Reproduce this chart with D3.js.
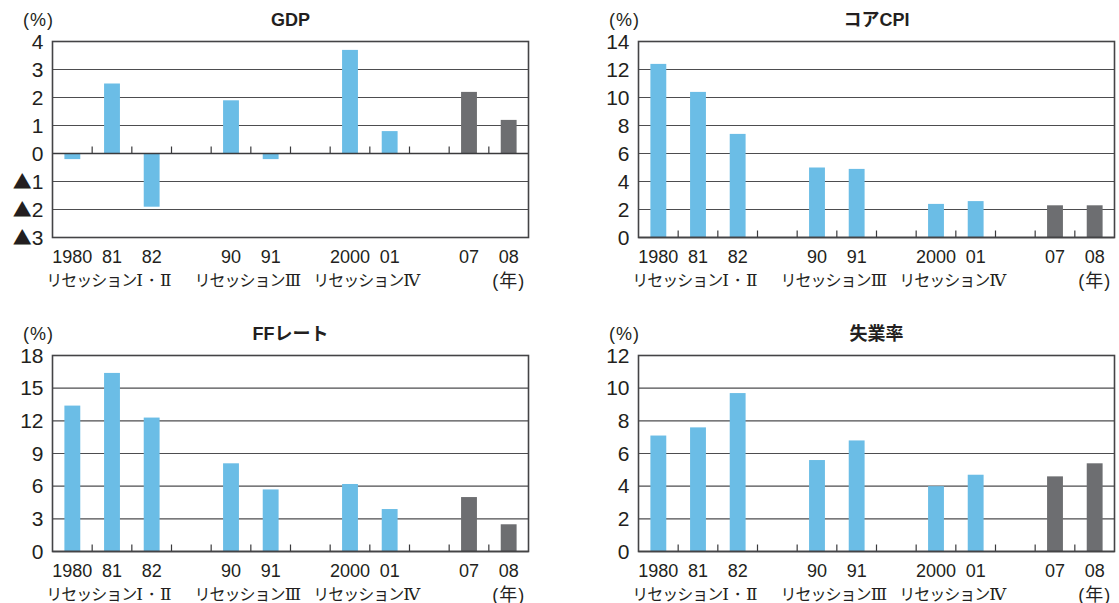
<!DOCTYPE html>
<html>
<head>
<meta charset="utf-8">
<script src="https://cdn.jsdelivr.net/npm/d3@7"></script>
<style>
  body { margin: 0; background: #fff; }
  text { font-family: "Liberation Sans", "Noto Sans CJK JP", sans-serif; }
</style>
</head>
<body>
<svg id="chart" width="1119" height="603"></svg>
<script>
// years shown, with empty slots between the recession groups
const years = ["1980", "81", "82", "90", "91", "2000", "01", "07", "08"];
const slots = ["1980", "81", "82", "gap1", "90", "91", "gap2", "2000", "01", "gap3", "07", "08"];
const recent = ["07", "08"];
const recessions = [
  { label: "リセッション", num: "Ⅰ・Ⅱ", from: "1980", to: "82" },
  { label: "リセッション", num: "Ⅲ", from: "90", to: "91" },
  { label: "リセッション", num: "Ⅳ", from: "2000", to: "01" }
];

const gdp = [-0.2, 2.5, -1.9, 1.9, -0.2, 3.7, 0.8, 2.2, 1.2];
const coreCpi = [12.4, 10.4, 7.4, 5.0, 4.9, 2.4, 2.6, 2.3, 2.3];
const ffRate = [13.4, 16.4, 12.3, 8.1, 5.7, 6.2, 3.9, 5.0, 2.5];
const unemployment = [7.1, 7.6, 9.7, 5.6, 6.8, 4.0, 4.7, 4.6, 5.4];

const blue = "#6bbde6";
const grey = "#6d6e71";
const ink = "#231f20";
const FONT = '"Liberation Sans", "Noto Sans CJK JP", sans-serif';
const JP = '"Noto Sans CJK JP", sans-serif';

const W = 476, H = 196;

const panels = [
  { title: "GDP", values: gdp, domain: [-3, 4], step: 1, x: 52.5, y: 41.5 },
  { title: "コアCPI", values: coreCpi, domain: [0, 14], step: 2, x: 638.5, y: 41.5 },
  { title: "FFレート", values: ffRate, domain: [0, 18], step: 3, x: 52.5, y: 355.5 },
  { title: "失業率", values: unemployment, domain: [0, 12], step: 2, x: 638.5, y: 355.5 }
];

const svg = d3.select("#chart");

panels.forEach(p => {
  const g = svg.append("g").attr("transform", `translate(${p.x},${p.y})`);

  const x = d3.scaleBand().domain(slots).range([0, W]).paddingInner(0.6).paddingOuter(0.3);
  const y = d3.scaleLinear().domain(p.domain).range([H, 0]);
  const ticks = d3.range(p.domain[0], p.domain[1] + p.step / 2, p.step);
  const gap = x.step() * x.paddingInner() / 2;

  // gridlines
  g.append("g")
    .selectAll("line")
    .data(ticks.slice(1, -1).filter(d => d !== 0))
    .join("line")
    .attr("x1", 0).attr("x2", W)
    .attr("y1", d => y(d)).attr("y2", d => y(d))
    .attr("stroke", "#4d4d4f")
    .attr("stroke-width", 1.2);

  // bars
  const rows = years.map((d, i) => ({ year: d, v: p.values[i] }));
  g.append("g")
    .selectAll("rect")
    .data(rows)
    .join("rect")
    .attr("x", d => x(d.year))
    .attr("width", x.bandwidth())
    .attr("y", d => y(Math.max(0, d.v)))
    .attr("height", d => Math.abs(y(d.v) - y(0)))
    .attr("fill", d => recent.includes(d.year) ? grey : blue);

  // zero line + little separators between slots
  g.append("line")
    .attr("x1", 0).attr("x2", W)
    .attr("y1", y(0)).attr("y2", y(0))
    .attr("stroke", "#3a3a3c").attr("stroke-width", 1.5);

  g.append("g")
    .selectAll("line")
    .data(slots.slice(1))
    .join("line")
    .attr("x1", d => x(d) - gap).attr("x2", d => x(d) - gap)
    .attr("y1", y(0)).attr("y2", y(0) - 7)
    .attr("stroke", "#3a3a3c").attr("stroke-width", 1.2);

  // frame
  g.append("rect")
    .attr("width", W).attr("height", H)
    .attr("fill", "none")
    .attr("stroke", "#444446").attr("stroke-width", 1.6);

  // y axis labels (negatives get a big triangle)
  const ya = g.append("g")
    .call(d3.axisLeft(y).tickValues(ticks).tickSize(0).tickPadding(9).tickFormat(d => Math.abs(d)));
  ya.select(".domain").remove();
  ya.attr("font-size", 21).attr("font-family", FONT).attr("color", ink);
  ya.selectAll(".tick")
    .filter(d => d < 0)
    .select("text")
    .text(null)
    .call(t => {
      t.append("tspan").attr("font-family", JP).attr("font-size", 19).text("▲");
      t.append("tspan").text(d => Math.abs(d));
    });

  // x axis labels
  const xa = g.append("g")
    .attr("transform", `translate(0,${H})`)
    .call(d3.axisBottom(x).tickValues(years).tickSize(0).tickPadding(13));
  xa.select(".domain").remove();
  xa.attr("font-size", 18).attr("font-family", FONT).attr("color", ink);

  // recession labels
  const rl = g.append("g")
    .selectAll("text")
    .data(recessions)
    .join("text")
    .attr("x", d => (x(d.from) + x(d.to) + x.bandwidth()) / 2 - 3)
    .attr("y", H + 48)
    .attr("text-anchor", "middle")
    .attr("font-family", JP)
    .attr("font-size", 16)
    .attr("letter-spacing", -1)
    .attr("fill", ink);
  rl.append("tspan").text(d => d.label);
  rl.append("tspan")
    .attr("font-family", '"DejaVu Serif", "Liberation Serif", serif')
    .attr("font-size", 17)
    .attr("letter-spacing", 0)
    .text(d => d.num);

  g.append("text")
    .attr("x", x("08") + x.bandwidth() / 2)
    .attr("y", H + 49)
    .attr("text-anchor", "middle")
    .attr("font-family", JP)
    .attr("font-size", 18)
    .attr("letter-spacing", 1)
    .attr("fill", ink)
    .text("(年)");

  // unit + title
  g.append("text")
    .attr("x", -14).attr("y", -16)
    .attr("text-anchor", "middle")
    .attr("font-family", JP)
    .attr("font-size", 18)
    .attr("letter-spacing", 1)
    .attr("fill", ink)
    .text("(%)");

  g.append("text")
    .attr("x", W / 2).attr("y", -16)
    .attr("text-anchor", "middle")
    .attr("font-family", JP)
    .attr("font-size", 18)
    .attr("font-weight", "bold")
    .attr("fill", ink)
    .text(p.title);
});
</script>
</body>
</html>
